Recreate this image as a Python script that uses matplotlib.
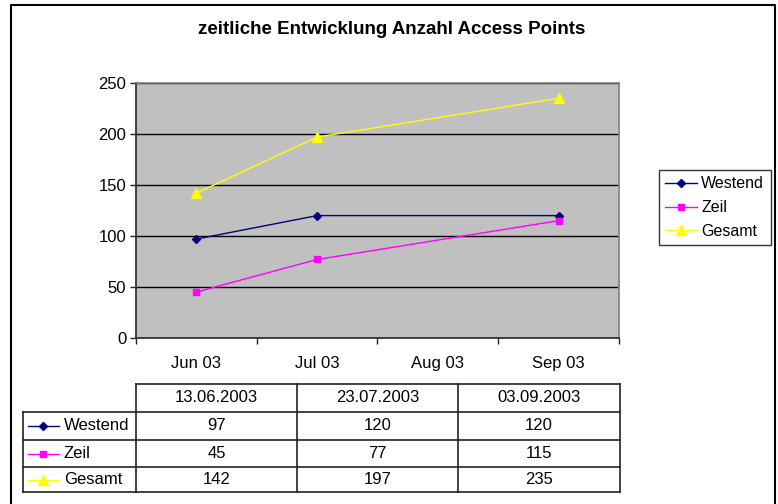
import matplotlib
matplotlib.use("Agg")
from matplotlib import pyplot as plt
from matplotlib.lines import Line2D
from datetime import datetime

plt.rcParams['font.family'] = ['Liberation Sans', 'DejaVu Sans']

title = "zeitliche Entwicklung Anzahl Access Points"
months = ["Jun 03", "Jul 03", "Aug 03", "Sep 03"]
dates = ["13.06.2003", "23.07.2003", "03.09.2003"]
series = ["Westend", "Zeil", "Gesamt"]
westend = [97, 120, 120]
zeil = [45, 77, 115]
gesamt = [142, 197, 235]
values = [westend, zeil, gesamt]
colors = ["#000080", "#FF00FF", "#FFFF00"]
markers = ["D", "s", "^"]
msizes = [4.5, 5, 6.5]
fs = 12

W, H = 778, 504
fig = plt.figure(figsize=(W / 100, H / 100), dpi=100)


def px(x0, y0, x1, y1):
    return [x0 / W, 1 - y1 / H, (x1 - x0) / W, (y1 - y0) / H]


# date -> position on a month based axis (each month is one slot)
first = datetime(2003, 6, 1)
xpos = []
for d in dates:
    dt = datetime.strptime(d, "%d.%m.%Y")
    xpos.append((dt.year - first.year) * 12 + dt.month - first.month + 0.5)

ax = fig.add_axes(px(136, 83, 619, 338))
ax.set_facecolor("#C0C0C0")
for i in range(3):
    ax.plot(xpos, values[i], color=colors[i], lw=1, marker=markers[i],
            ms=msizes[i], mec=colors[i], mfc=colors[i], label=series[i],
            zorder=3, clip_on=False)

ax.set_xlim(0, len(months))
ax.set_ylim(0, 250)
ax.set_yticks(range(0, 251, 50))
ax.yaxis.grid(True, color="black", lw=1)
ax.set_axisbelow(True)
ax.set_xticks(range(len(months) + 1))
ax.set_xticklabels([])
ax.set_xticks([i + 0.5 for i in range(len(months))], minor=True)
ax.set_xticklabels(months, minor=True)
ax.tick_params(axis="x", which="minor", length=0, pad=13, labelsize=fs)
ax.tick_params(axis="x", which="major", length=4, width=1, color="#222222")
ax.tick_params(axis="y", length=4, width=1, color="#222222", labelsize=fs, pad=3)
for s in ["top", "right"]:
    ax.spines[s].set_color("#808080")
    ax.spines[s].set_linewidth(1.2)
for s in ["left", "bottom"]:
    ax.spines[s].set_color("#333333")
    ax.spines[s].set_linewidth(1.3)

leg = fig.legend(loc="upper left", bbox_to_anchor=(659 / W, 1 - 170 / H),
                 frameon=True, fancybox=False, edgecolor="black",
                 borderaxespad=0, fontsize=11.5, handlelength=2.0,
                 handletextpad=0.25, labelspacing=0.55, borderpad=0.4)
leg.get_frame().set_linewidth(1)

fig.text(392 / W, 1 - 30 / H, title, ha="center", va="center",
         fontsize=13.5, fontweight="bold")

# overlay in pixel coordinates for frame and data table
ov = fig.add_axes([0, 0, 1, 1], zorder=5)
ov.set_xlim(0, W)
ov.set_ylim(H, 0)
ov.axis("off")
ov.patch.set_alpha(0)

# chart border
ov.plot([11, 11, 775, 775], [510, 5, 5, 510], color="black", lw=1.5)

col_edges = [23, 136, 297, 458, 620]
row_edges = [384, 412, 440, 467, 492]
lc = "#222222"
# header row (no first cell)
ov.plot([136, 620], [384, 384], color=lc, lw=1.2)
for y in row_edges[1:]:
    ov.plot([23, 620], [y, y], color=lc, lw=1.2)
ov.plot([23, 23], [412, 492], color=lc, lw=1.2)
for x in col_edges[1:]:
    ov.plot([x, x], [384, 492], color=lc, lw=1.2)

for j, d in enumerate(dates):
    ov.text((col_edges[j + 1] + col_edges[j + 2]) / 2, (row_edges[0] + row_edges[1]) / 2,
            d, ha="center", va="center", fontsize=fs)
for i in range(3):
    yc = (row_edges[i + 1] + row_edges[i + 2]) / 2
    ov.add_line(Line2D([28, 59], [yc, yc], color=colors[i], lw=1))
    ov.add_line(Line2D([43.5], [yc], color=colors[i], marker=markers[i],
                       ms=msizes[i], mec=colors[i], mfc=colors[i]))
    ov.text(64, yc, series[i], ha="left", va="center", fontsize=fs)
    for j in range(3):
        ov.text((col_edges[j + 1] + col_edges[j + 2]) / 2, yc, str(values[i][j]),
                ha="center", va="center", fontsize=fs)

fig.savefig("out.png", dpi=100)
